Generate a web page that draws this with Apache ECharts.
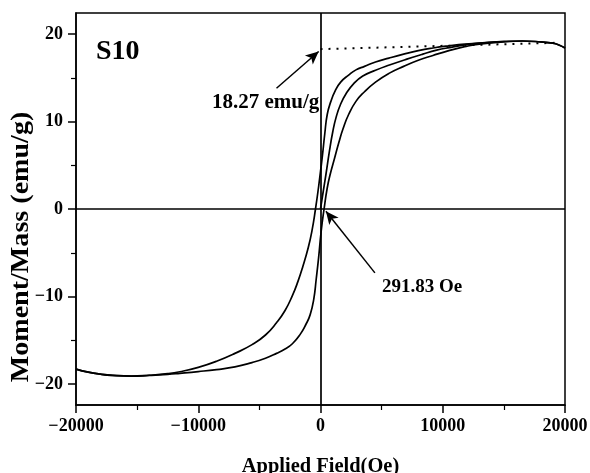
<!DOCTYPE html>
<html><head><meta charset="utf-8">
<script src="https://cdn.jsdelivr.net/npm/echarts@6/dist/echarts.min.js"></script>
<style>html,body{margin:0;padding:0;background:#fff}#c{width:590px;height:473px}</style>
</head><body><div id="c"></div>
<script>
// ---- data ----
const xTicks = [-20000, -10000, 0, 10000, 20000];
const yTicks = [-20, -10, 0, 10, 20];
const yMinorTicks = [-15, -5, 5, 15];
// descending branch (+20000 -> -20000)
const descH = [20000,19500,19000,18000,16500,15000,13000,11800,10500,9200,8000,6800,5600,4500,3600,2900,2300,1650,1200,850,550,350,150,0,-150,-410,-700,-1000,-1450,-1850,-2300,-2900,-3600,-4500,-5600,-7000,-8500,-10000,-11500,-12500,-14000,-15500,-17000,-18000,-19000,-20000];
const descM = [18.4,18.75,18.95,19.1,19.2,19.15,18.95,18.85,18.65,18.4,18.1,17.7,17.25,16.8,16.3,15.9,15.3,14.5,13.5,12.3,10.8,8.6,6.0,4.3,2.6,0,-2.5,-4.4,-6.6,-8.3,-9.9,-11.6,-13.0,-14.4,-15.5,-16.5,-17.4,-18.1,-18.6,-18.82,-19.0,-19.1,-19.02,-18.88,-18.65,-18.3];
// ascending branch (-20000 -> +20000)
const ascH = [-20000,-19000,-18000,-17000,-15500,-14000,-12500,-11500,-10000,-8500,-7000,-5600,-4500,-3600,-2900,-2300,-1650,-1200,-850,-550,-350,-150,50,292,550,800,1150,1500,1850,2300,2900,3600,4500,5600,6800,8000,9200,10500,11800,13000,15000,16500,18000,19000,19500,20000];
const ascM = [-18.3,-18.65,-18.88,-19.02,-19.1,-19.02,-18.9,-18.78,-18.58,-18.35,-18.05,-17.55,-17.05,-16.5,-16.0,-15.4,-14.3,-13.2,-12.1,-10.3,-8.0,-5.5,-2.6,0,2.4,4.0,5.8,7.6,9.2,10.8,12.3,13.4,14.5,15.5,16.3,17.0,17.55,18.1,18.55,18.85,19.1,19.2,19.1,18.95,18.75,18.4];
// initial magnetisation curve
const virgH = [0,200,450,740,1000,1280,1650,2100,2700,3460,4500,5640,7000,8370,9500,10550,11800,13000,14500];
const virgM = [0,1.8,4.0,6.7,8.8,10.5,12.0,13.2,14.3,15.2,15.85,16.45,17.1,17.7,18.15,18.45,18.75,18.95,19.1];
const satM = 18.27, satLineEnd = [19500, 19.0];
const coerciveField = 291.83;
const labels = { sample: 'S10', sat: '18.27 emu/g', hc: '291.83 Oe', xName: 'Applied Field(Oe)', yName: 'Moment/Mass (emu/g)' };

const pair = (h, m) => h.map((v, i) => [v, m[i]]);
const FONT = "'Liberation Serif','Times New Roman',serif";
const minus = v => String(v).replace('-', '\u2212');
const chart = echarts.init(document.getElementById('c'), null, {renderer: 'canvas'});
const lineStyle = {color: '#000', width: 1.7};
const baseSeries = (name, data) => ({name, type: 'line', data, showSymbol: false, smooth: 0.5, lineStyle, silent: true, z: 3});

chart.setOption({
  animation: false,
  grid: {left: 76, right: 25, top: 13, bottom: 68, containLabel: false, outerBoundsMode: 'none',
         show: true, borderColor: '#000', borderWidth: 1.5, backgroundColor: 'transparent'},
  xAxis: {
    type: 'value', min: -20000, max: 20000, interval: 10000,
    axisLine: {onZero: false, lineStyle: {color: '#000', width: 1.5}},
    axisTick: {inside: false, length: 8, lineStyle: {color: '#000', width: 1.5}},
    minorTick: {show: true, splitNumber: 2, length: 5, lineStyle: {color: '#000', width: 1.2}},
    splitLine: {show: false}, minorSplitLine: {show: false},
    axisLabel: {fontFamily: FONT, fontWeight: 'bold', fontSize: 18, color: '#000', margin: 12, formatter: minus, showMaxLabel: true}
  },
  yAxis: [{
    type: 'value', min: -22.4, max: 22.4,
    axisLine: {onZero: false, lineStyle: {color: '#000', width: 1.5}},
    axisTick: {length: 8, customValues: yTicks, lineStyle: {color: '#000', width: 1.5}},
    splitLine: {show: false},
    axisLabel: {customValues: yTicks, fontFamily: FONT, fontWeight: 'bold', fontSize: 18, color: '#000', margin: 13, formatter: minus}
  }, {
    type: 'value', min: -22.4, max: 22.4, position: 'left',
    axisLine: {show: false, onZero: false},
    axisTick: {length: 5, customValues: yMinorTicks, lineStyle: {color: '#000', width: 1.2}},
    axisLabel: {show: false}, splitLine: {show: false}
  }],
  series: [
    Object.assign(baseSeries('desc', pair(descH, descM)), {
      markLine: {
        silent: true, symbol: 'none', label: {show: false},
        lineStyle: {color: '#000', width: 1.7, type: 'solid'},
        data: [{xAxis: 0}, {yAxis: 0}]
      }
    }),
    baseSeries('asc', pair(ascH, ascM)),
    baseSeries('virgin', pair(virgH, virgM)),
    {
      type: 'line', data: [], silent: true,
      markLine: {
        silent: true, label: {show: false}, animation: false,
        data: [
          [{coord: [0, satM], symbol: 'none', lineStyle: {type: [2, 6], width: 2, color: '#000'}}, {coord: satLineEnd, symbol: 'none'}],
          [{coord: [-3600, 13.8], symbol: 'none', lineStyle: {type: 'solid', width: 1.5, color: '#000'}}, {coord: [-150, 18.0], symbol: 'arrow', symbolSize: [9, 13]}],
          [{coord: [4450, -7.3], symbol: 'none', lineStyle: {type: 'solid', width: 1.5, color: '#000'}}, {coord: [coerciveField + 150, -0.25], symbol: 'arrow', symbolSize: [9, 13]}]
        ]
      }
    }
  ],
  graphic: [
    {type: 'text', left: 96, top: 38, style: {text: labels.sample, font: 'bold 28px ' + FONT, fill: '#000'}},
    {type: 'text', left: 212, top: 92, style: {text: labels.sat, font: 'bold 21px ' + FONT, fill: '#000'}},
    {type: 'text', left: 382, top: 278, style: {text: labels.hc, font: 'bold 19px ' + FONT, fill: '#000'}},
    {type: 'text', x: 320.5, y: 466, scaleX: 0.93,
     style: {text: labels.xName, font: 'bold 22px ' + FONT, fill: '#000', align: 'center', verticalAlign: 'middle'}},
    {type: 'text', x: 21, y: 247, rotation: Math.PI / 2, scaleX: 1.08,
     style: {text: labels.yName, font: 'bold 26px ' + FONT, fill: '#000', align: 'center', verticalAlign: 'middle'}}
  ]
});
</script></body></html>
